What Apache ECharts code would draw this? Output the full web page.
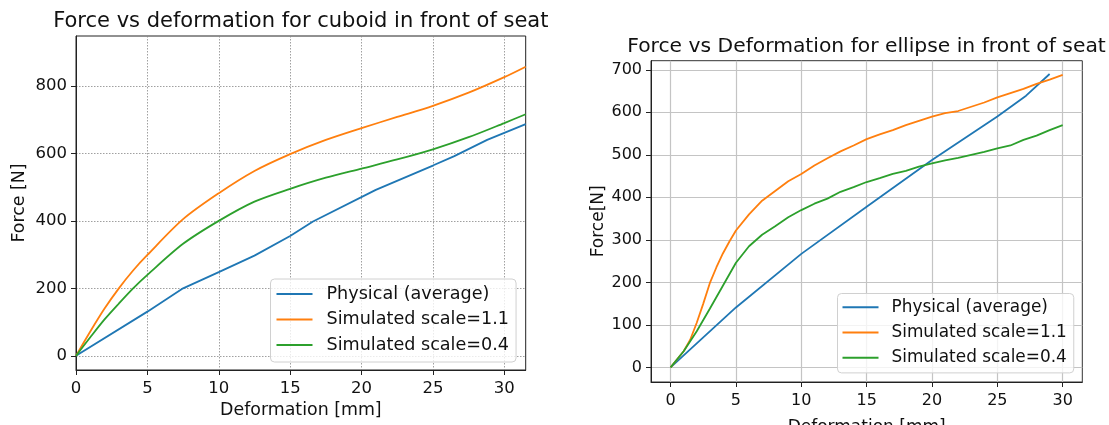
<!DOCTYPE html>
<html><head><meta charset="utf-8">
<script src="https://cdn.jsdelivr.net/npm/echarts@6/dist/echarts.min.js"></script>
<style>html,body{margin:0;padding:0;background:#fff}#c{width:1109px;height:425px}</style>
</head><body><div id="c"></div>
<script>
// ---- Left chart: cuboid ----
const cubPhysX = [0, 5, 7.5, 10, 12.5, 15, 16.6, 21, 25, 26.5, 28.8, 31.5];
const cubPhysY = [0, 131, 200, 248, 297, 355, 398, 492, 564, 592, 640, 687];
const cubSim11X = [0, 1, 2, 3, 4, 5, 7.5, 10, 12.5, 15, 17.5, 20, 22.5, 25, 27.5, 30, 31.5];
const cubSim11Y = [0, 72, 140, 200, 253, 299, 405, 482, 548, 598, 640, 675, 708, 741, 780, 826, 857];
const cubSim04X = [0, 1, 2, 3, 4, 5, 7.5, 10, 12.5, 15, 17.5, 20, 22.5, 25, 27.5, 30, 31.5];
const cubSim04Y = [0, 55, 108, 155, 200, 240, 332, 400, 457, 495, 528, 555, 582, 612, 648, 690, 716];
const cubXTicks = [0, 5, 10, 15, 20, 25, 30];
const cubYTicks = [0, 200, 400, 600, 800];

// ---- Right chart: ellipse ----
const ellPhysX = [0, 5, 10, 15, 20, 25, 27.2, 29];
const ellPhysY = [0, 141, 267, 378, 488, 590, 639, 690];
const ellSim11X = [0, 1, 1.5, 2, 2.5, 3, 3.5, 4, 4.5, 5, 6, 7, 8, 9, 10, 11, 12, 13, 14, 15, 16, 17, 18, 19, 20, 21, 22, 23, 24, 25, 26, 27, 28, 29, 30];
const ellSim11Y = [0, 38, 65, 105, 150, 198, 235, 268, 296, 322, 360, 392, 415, 438, 455, 475, 492, 508, 522, 537, 548, 558, 570, 580, 590, 598, 603, 613, 623, 635, 645, 655, 667, 677, 688];
const ellSim04X = [0, 1, 2, 3, 4, 5, 6, 7, 8, 9, 10, 11, 12, 13, 14, 15, 16, 17, 18, 19, 20, 21, 22, 23, 24, 25, 26, 27, 28, 29, 30];
const ellSim04Y = [0, 38, 85, 138, 192, 246, 285, 312, 332, 353, 370, 385, 397, 413, 424, 436, 445, 455, 462, 472, 480, 487, 493, 500, 507, 515, 522, 535, 545, 558, 570];
const ellXTicks = [0, 5, 10, 15, 20, 25, 30];
const ellYTicks = [0, 100, 200, 300, 400, 500, 600, 700];

const names = ['Physical (average)', 'Simulated scale=1.1', 'Simulated scale=0.4'];
const colors = ['#1f77b4', '#ff7f0e', '#2ca02c'];
const zip = (xs, ys) => xs.map((x, i) => [x, ys[i]]);
const FONT = 'DejaVu Sans';

function axisCfg(gridIndex, min, max, ticks, gridStyle, name, nameGap, fs, nfs, margin) {
  return {
    type: 'value', gridIndex, min, max,
    name, nameLocation: 'middle', nameGap,
    nameTextStyle: {fontFamily: FONT, fontSize: nfs, color: '#111'},
    axisLine: {show: true, onZero: false, lineStyle: {color: '#222', width: 1}},
    axisTick: {show: true, inside: false, length: 5, customValues: ticks, lineStyle: {color: '#222'}},
    axisLabel: {show: true, customValues: ticks, margin, fontFamily: FONT, fontSize: fs, color: '#111'},
    splitLine: {show: true, lineStyle: gridStyle}
  };
}
const leftGrid = {color: '#888', width: 0.8, type: [1.5, 1.5]};
const rightGrid = {color: '#c4c4c4', width: 1.2, type: 'solid'};

function legendCfg(left, top, fs, lh, gap, pad, tpad) {
  return {
    orient: 'vertical', left, top,
    data: names,
    icon: 'rect', itemWidth: 36, itemHeight: 2,
    itemGap: gap,
    padding: pad,
    backgroundColor: 'rgba(255,255,255,0.8)',
    borderColor: '#d0d0d0', borderWidth: 1, borderRadius: 4,
    textStyle: {fontFamily: FONT, fontSize: fs, color: '#111', lineHeight: lh, padding: [0, 0, 0, tpad]}
  };
}

function line(name, data, xi, yi, color, smooth) {
  return {
    type: 'line', name, data, xAxisIndex: xi, yAxisIndex: yi,
    showSymbol: false, symbol: 'none', smooth: smooth ? 0.3 : false,
    lineStyle: {color, width: 1.8}, itemStyle: {color},
    animation: false, clip: true
  };
}

const chart = echarts.init(document.getElementById('c'), null, {renderer: 'canvas'});
chart.setOption({
  animation: false,
  title: [
    {text: 'Force vs deformation for cuboid in front of seat', left: 300.8, top: 11, padding: 0, textAlign: 'center',
     textStyle: {fontFamily: FONT, fontSize: 21, fontWeight: 'normal', color: '#111'}},
    {text: 'Force vs Deformation for ellipse in front of seat', left: 866.5, top: 37, padding: 0, textAlign: 'center',
     textStyle: {fontFamily: FONT, fontSize: 20.3, fontWeight: 'normal', color: '#111'}}
  ],
  grid: [
    {left: 76, top: 36, right: 583.3, bottom: 55, show: true, borderColor: '#222', borderWidth: 1,
     containLabel: false, outerBoundsMode: 'none'},
    {left: 651, top: 60.7, right: 26.7, bottom: 43, show: true, borderColor: '#333', borderWidth: 1,
     containLabel: false, outerBoundsMode: 'none'}
  ],
  xAxis: [
    axisCfg(0, 0, 31.5, cubXTicks, leftGrid, 'Deformation [mm]', 29.5, 16.5, 17.4, 10),
    axisCfg(1, -1.5, 31.5, ellXTicks, rightGrid, 'Deformation [mm]', 37, 16, 17, 10.5)
  ],
  yAxis: [
    axisCfg(0, -42, 948, cubYTicks, leftGrid, 'Force [N]', 48.5, 16.5, 17.4, 9),
    axisCfg(1, -34.35, 721.35, ellYTicks, rightGrid, 'Force[N]', 44, 16, 17, 9)
  ],
  legend: [
    legendCfg(270.5, 279, 17.6, 20, 5.5, [5, 7, 7, 6], 9),
    legendCfg(837.5, 293.5, 16.9, 19.5, 5.7, [4, 7, 5.5, 5], 8)
  ],
  series: [
    line(names[0], zip(cubPhysX, cubPhysY), 0, 0, colors[0], false),
    line(names[1], zip(cubSim11X, cubSim11Y), 0, 0, colors[1], true),
    line(names[2], zip(cubSim04X, cubSim04Y), 0, 0, colors[2], true),
    line(names[0], zip(ellPhysX, ellPhysY), 1, 1, colors[0], false),
    line(names[1], zip(ellSim11X, ellSim11Y), 1, 1, colors[1], false),
    line(names[2], zip(ellSim04X, ellSim04Y), 1, 1, colors[2], false)
  ]
});
</script></body></html>
